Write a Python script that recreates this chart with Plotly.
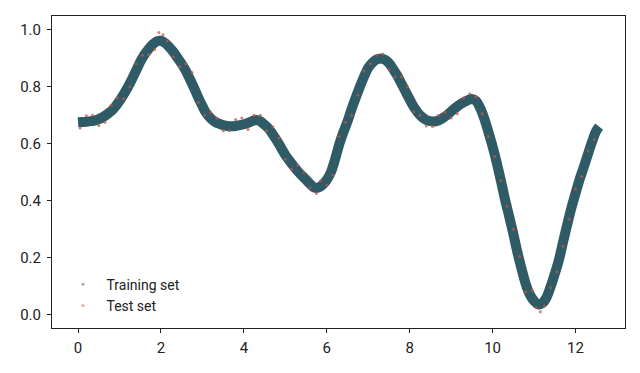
import plotly.graph_objects as go

# Centre of the training band (x step 0.1)
x_train = [round(i * 0.1, 1) for i in range(126)] + [12.57]
y_train = [
    0.675, 0.676, 0.677, 0.679, 0.681, 0.686, 0.693, 0.703, 0.714, 0.730,
    0.750, 0.773, 0.798, 0.826, 0.856, 0.887, 0.912, 0.932, 0.948, 0.959,
    0.961, 0.953, 0.939, 0.922, 0.901, 0.880, 0.855, 0.826, 0.795, 0.762,
    0.732, 0.705, 0.689, 0.677, 0.670, 0.665, 0.662, 0.661, 0.662, 0.665,
    0.668, 0.673, 0.679, 0.683, 0.678, 0.666, 0.652, 0.632, 0.610, 0.585,
    0.560, 0.540, 0.521, 0.503, 0.488, 0.473, 0.458, 0.446, 0.446, 0.456,
    0.473, 0.500, 0.545, 0.597, 0.640, 0.678, 0.722, 0.762, 0.800, 0.836,
    0.866, 0.884, 0.895, 0.899, 0.895, 0.883, 0.862, 0.839, 0.811, 0.783,
    0.755, 0.729, 0.708, 0.693, 0.683, 0.679, 0.678, 0.682, 0.690, 0.700,
    0.713, 0.725, 0.736, 0.745, 0.752, 0.757, 0.750, 0.725, 0.688, 0.640,
    0.590, 0.533, 0.470, 0.404, 0.345, 0.283, 0.218, 0.160, 0.107, 0.070,
    0.048, 0.036, 0.040, 0.060, 0.098, 0.143, 0.192, 0.255, 0.316, 0.374,
    0.425, 0.475, 0.518, 0.563, 0.607, 0.645, 0.660,
]

# Test-set specks (mostly along the band edges)
x_test = [0.05, 0.20, 0.35, 0.50, 0.65, 0.80, 0.95, 1.10, 1.25, 1.40, 1.55,
          1.70, 1.85, 1.95, 2.05, 2.15, 2.30, 2.45, 2.60, 2.75, 2.90, 3.05,
          3.20, 3.35, 3.50, 3.65, 3.80, 3.95, 4.10, 4.25, 4.40, 4.55, 4.70,
          4.85, 5.00, 5.15, 5.30, 5.45, 5.60, 5.75, 5.85, 6.00, 6.15, 6.30,
          6.45, 6.60, 6.75, 6.90, 7.05, 7.20, 7.35, 7.50, 7.65, 7.80, 7.95,
          8.10, 8.25, 8.40, 8.55, 8.70, 8.85, 9.00, 9.15, 9.30, 9.45, 9.60,
          9.75, 9.90, 10.05, 10.20, 10.35, 10.50, 10.65, 10.80, 10.95, 11.05,
          11.15, 11.25, 11.40, 11.55, 11.70, 11.85, 12.00, 12.15, 12.30,
          12.45]
y_test = [0.655, 0.698, 0.700, 0.664, 0.675, 0.735, 0.760, 0.758, 0.800,
          0.880, 0.910, 0.912, 0.930, 0.990, 0.982, 0.960, 0.905, 0.870,
          0.880, 0.850, 0.745, 0.700, 0.710, 0.690, 0.645, 0.645, 0.685,
          0.690, 0.650, 0.700, 0.700, 0.645, 0.658, 0.620, 0.545, 0.510,
          0.525, 0.500, 0.445, 0.425, 0.470, 0.455, 0.490, 0.625, 0.675,
          0.700, 0.770, 0.855, 0.880, 0.910, 0.915, 0.860, 0.835, 0.835,
          0.800, 0.712, 0.700, 0.662, 0.660, 0.700, 0.710, 0.690, 0.705,
          0.760, 0.775, 0.765, 0.705, 0.625, 0.555, 0.470, 0.380, 0.300,
          0.205, 0.080, 0.085, 0.025, 0.010, 0.030, 0.095, 0.150, 0.240,
          0.335, 0.440, 0.485, 0.575, 0.615]

teal = "#2e5b66"
red = "#c8553d"

fig = go.Figure()
fig.add_trace(go.Scatter(
    x=x_train, y=y_train, mode="lines", showlegend=False,
    line=dict(width=10, color=teal, shape="spline"),
    hoverinfo="skip"))
fig.add_trace(go.Scatter(
    x=x_test, y=y_test, mode="markers", showlegend=False,
    marker=dict(size=3, color=red, opacity=0.75, line=dict(width=0)),
    hoverinfo="skip"))
# legend entries
fig.add_trace(go.Scatter(
    x=[None], y=[None], mode="markers", name="Training set",
    marker=dict(size=3, color=teal, opacity=0.5)))
fig.add_trace(go.Scatter(
    x=[None], y=[None], mode="markers", name="Test set",
    marker=dict(size=3, color=red, opacity=0.5)))

axis_common = dict(showline=True, linecolor="#222", linewidth=1, mirror=True,
                   ticks="outside", ticklen=4, tickcolor="#222",
                   showgrid=False, zeroline=False,
                   tickfont=dict(family="Roboto", size=15, color="#222"))

fig.update_layout(
    width=640, height=373,
    margin=dict(l=52, r=15, t=16, b=45),
    paper_bgcolor="white", plot_bgcolor="white",
    xaxis=dict(range=[-0.628, 13.194], tickvals=[0, 2, 4, 6, 8, 10, 12],
               ticklabelstandoff=2, **axis_common),
    yaxis=dict(range=[-0.047, 1.048], tickvals=[0, 0.2, 0.4, 0.6, 0.8, 1.0],
               tickformat=".1f", ticklabelstandoff=3, **axis_common),
    legend=dict(x=0.013, y=0.19, xanchor="left", yanchor="top",
                itemwidth=37, tracegroupgap=0,
                bgcolor="rgba(0,0,0,0)",
                font=dict(family="Roboto", size=14, color="#222")),
)

fig.write_html("out.html")
